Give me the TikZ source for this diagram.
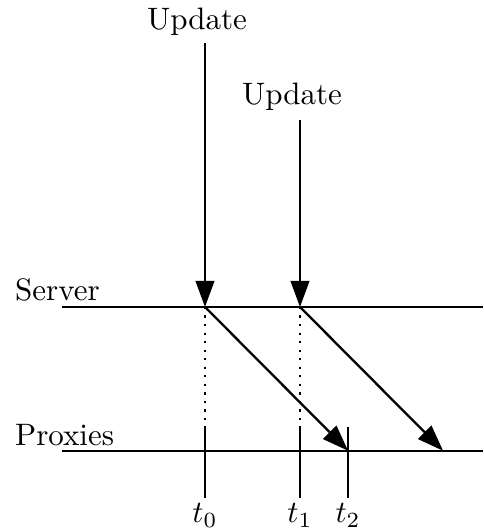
\documentclass[tikz,border=0pt]{standalone}
\usetikzlibrary{arrows.meta}

\begin{document}
\begin{tikzpicture}[line width=0.75pt,
                >={Triangle[length=8.4pt,width=6pt]},
                tlabel/.style={below,inner sep=1.5pt}
                ]
            \useasboundingbox (0,0) rectangle (5.476,-6.020);

            \node (update1) at (2.234,-0.25) {Update};
            \node (update2) at (3.31,-1.10) {Update};
            \node[anchor=west,inner sep=0pt] (server) at (0.159,-3.29) {Server};
            \node[anchor=west,inner sep=0pt] (proxies) at (0.159,-4.93) {Proxies};

            \coordinate (u1) at (2.324,-0.488);
            \coordinate (u2) at (3.401,-1.36);

            \coordinate (sl) at (0.70,-3.48);
            \coordinate (sr) at (5.476,-3.48);
            \coordinate (pl) at (0.70,-5.11);
            \coordinate (pr) at (5.476,-5.11);

            \coordinate (s0) at (2.324,-3.48);
            \coordinate (s1) at (3.401,-3.48);
            \coordinate (p2) at (3.946,-5.11);
            \coordinate (p3) at (5.023,-5.11);

            \coordinate (t0top) at (2.324,-4.84);
            \coordinate (t0bot) at (2.324,-5.646);
            \coordinate (t1top) at (3.401,-4.84);
            \coordinate (t1bot) at (3.401,-5.646);
            \coordinate (t2top) at (3.946,-4.84);
            \coordinate (t2bot) at (3.946,-5.646);

            \draw (sl) to (sr);
            \draw (pl) to (pr);

            \draw[->] (u1) to (s0);
            \draw[->] (u2) to (s1);
            \draw[->] (s0) to (p2);
            \draw[->] (s1) to (p3);

            \draw[dotted] (s0) to (t0top);
            \draw[dotted] (s1) to (t1top);

            \draw (t0top) to (t0bot) node[tlabel] (t0) {$t_0$};
            \draw (t1top) to (t1bot) node[tlabel] (t1) {$t_1$};
            \draw (t2top) to (t2bot) node[tlabel] (t2) {$t_2$};

            \end{tikzpicture}
\end{document}
